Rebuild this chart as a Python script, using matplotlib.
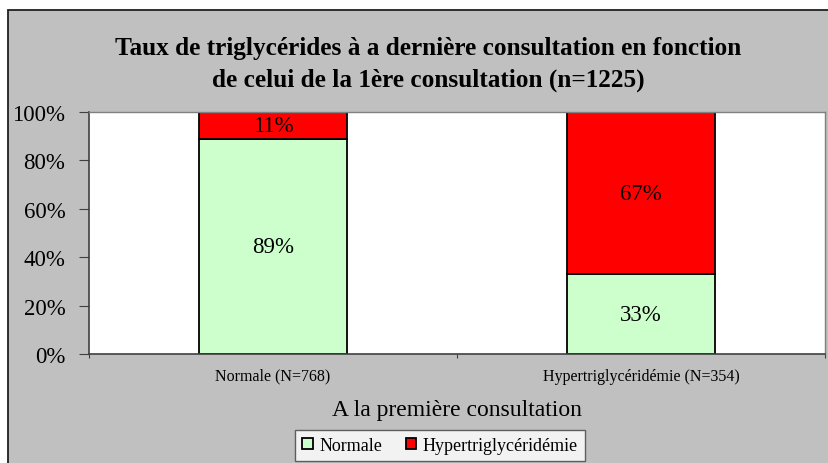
import matplotlib
matplotlib.use("Agg")
import matplotlib.pyplot as plt
from matplotlib.patches import Rectangle
import numpy as np

plt.rcParams['font.family'] = ['Liberation Serif', 'DejaVu Serif']

categories = ["Normale (N=768)", "Hypertriglycéridémie (N=354)"]
series_names = ["Normale", "Hypertriglycéridémie"]
normale = [89, 33]
hyper = [11, 67]
yticks = [0, 20, 40, 60, 80, 100]

title_lines = ["Taux de triglycérides à a dernière consultation en fonction",
               "de celui de la 1ère consultation (n=1225)"]
xlabel = "A la première consultation"

W, H = 829, 464
fig = plt.figure(figsize=(W/100, H/100), dpi=100)
fig.patch.set_facecolor('white')

bg = fig.add_axes([0, 0, 1, 1], zorder=-10)
bg.set_xlim(0, W)
bg.set_ylim(H, 0)
bg.axis('off')
bg.add_patch(Rectangle((8.5, 10.5), W + 5, H + 5, facecolor='#C0C0C0', edgecolor='#202020', linewidth=1.3))

ax = fig.add_axes([89/W, (H-355)/H, (825-89)/W, (355-113)/H], zorder=1)
ax.set_facecolor('white')
x = np.arange(len(categories)) + 0.5
bw = 0.4
b1 = ax.bar(x, normale, bw, color='#CCFFCC', edgecolor='black', linewidth=1.3, label=series_names[0], zorder=2)
b2 = ax.bar(x, hyper, bw, bottom=normale, color='#FF0000', edgecolor='black', linewidth=1.3, label=series_names[1], zorder=2)

for xi, n, h in zip(x, normale, hyper):
    ax.text(xi, n/2, f"{n}%", ha='center', va='center', fontsize=16.5, zorder=3)
    ax.text(xi, n + h/2, f"{h}%", ha='center', va='center', fontsize=16.5, zorder=3)

ax.set_xlim(0, 2)
ax.set_ylim(0, 100)
ax.set_yticks(yticks)
ax.set_yticklabels([f"{t}%" for t in yticks], fontsize=16.5)
ax.set_xticks([0, 1, 2])
ax.set_xticklabels([])
ax.set_xticks(x, minor=True)
ax.set_xticklabels(categories, minor=True, fontsize=11.5)
ax.tick_params(axis='x', which='minor', length=0, pad=10)
ax.tick_params(axis='x', which='major', length=3, direction='out', color='#404040')
ax.tick_params(axis='y', length=7, direction='out', color='#404040', pad=10)
for s in ['top', 'right']:
    ax.spines[s].set_color('#808080')
    ax.spines[s].set_linewidth(1)
for s in ['left', 'bottom']:
    ax.spines[s].set_color('#404040')
    ax.spines[s].set_linewidth(1.2)

fig.text(428/W, 1 - 48/H, title_lines[0], ha='center', va='center', fontsize=18.2, fontweight='bold')
fig.text(428/W, 1 - 80/H, title_lines[1], ha='center', va='center', fontsize=18.2, fontweight='bold')
fig.text(457/W, 1 - 411/H, xlabel, ha='center', va='center', fontsize=17)

leg = fig.legend(handles=[b1, b2], labels=series_names, loc='center', bbox_to_anchor=(440/W, 1 - 446.5/H),
                 ncol=2, fontsize=13, frameon=True, fancybox=False, edgecolor='#404040',
                 handlelength=0.6, handleheight=0.6, handletextpad=0.35, columnspacing=1.3,
                 borderpad=0.4, borderaxespad=0)
leg.get_frame().set_linewidth(1)
leg.get_frame().set_facecolor('white')
leg.set_zorder(5)

fig.savefig("out.png", dpi=100, facecolor=fig.get_facecolor())
